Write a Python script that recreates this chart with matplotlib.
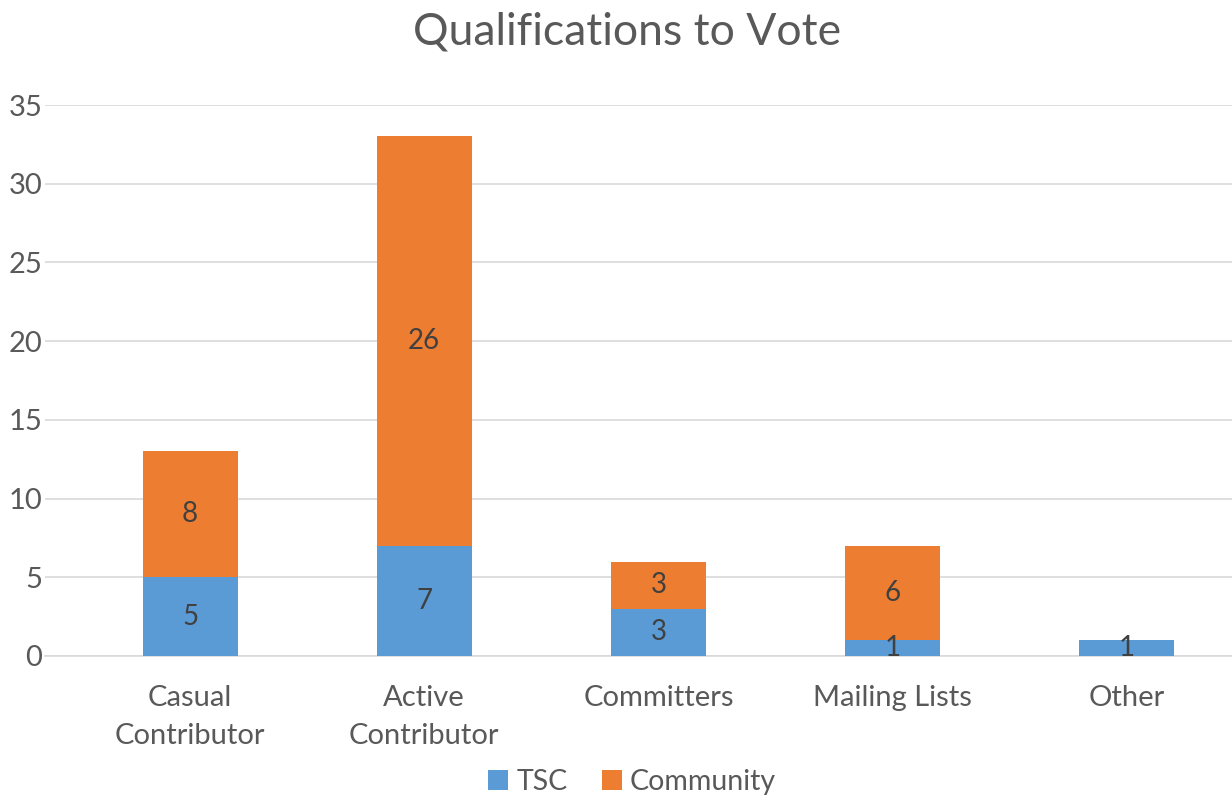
import numpy as np
import matplotlib
matplotlib.use("Agg")
import matplotlib.pyplot as plt

plt.rcParams['font.family'] = ['Lato', 'DejaVu Sans']

categories = ["Casual\nContributor", "Active\nContributor", "Committers", "Mailing Lists", "Other"]
tsc = [5, 7, 3, 1, 1]
community = [8, 26, 3, 6, 0]

blue = "#5B9BD5"
orange = "#ED7D31"
grey = "#595959"

fig = plt.figure(figsize=(12.32, 7.98), dpi=100)
ax = fig.add_axes([45/1232, 1 - 656/798, (1232-45)/1232, (656-105)/798])

x = np.arange(len(categories))
w = 0.405
b1 = ax.bar(x, tsc, w, color=blue, label="TSC", zorder=3)
b2 = ax.bar(x, community, w, bottom=tsc, color=orange, label="Community", zorder=3)

for i in range(len(x)):
    ax.text(x[i], tsc[i] / 2, str(tsc[i]), ha="center", va="center",
            fontsize=20, color="#404040", zorder=4)
    if community[i] > 0:
        ax.text(x[i], tsc[i] + community[i] / 2, str(community[i]), ha="center",
                va="center", fontsize=20, color="#404040", zorder=4)

ax.set_xlim(-0.62, 4.45)
ax.set_ylim(0, 35)
ax.set_yticks(range(0, 36, 5))
ax.yaxis.grid(True, color="#D9D9D9", linewidth=1.2, zorder=0)
ax.set_xticks(x)
ax.set_xticklabels(categories, fontsize=21, color=grey, linespacing=1.55)
ax.tick_params(axis="y", labelsize=21, labelcolor=grey, length=0, pad=2)
ax.tick_params(axis="x", length=0, pad=21)
for s in ["top", "right", "left"]:
    ax.spines[s].set_visible(False)
ax.spines["bottom"].set_color("#D9D9D9")
ax.spines["bottom"].set_linewidth(1.2)

fig.suptitle("Qualifications to Vote", fontsize=32, color=grey, x=627/1232, y=0.985, va="top")

fig.legend(handles=[b1, b2], loc="center", bbox_to_anchor=(632/1232, 1 - 782/798),
           ncol=2, frameon=False, fontsize=20.5, labelcolor=grey,
           handlelength=0.7, handleheight=0.7, handletextpad=0.3, columnspacing=1.2)

fig.savefig("out.png", dpi=100)
